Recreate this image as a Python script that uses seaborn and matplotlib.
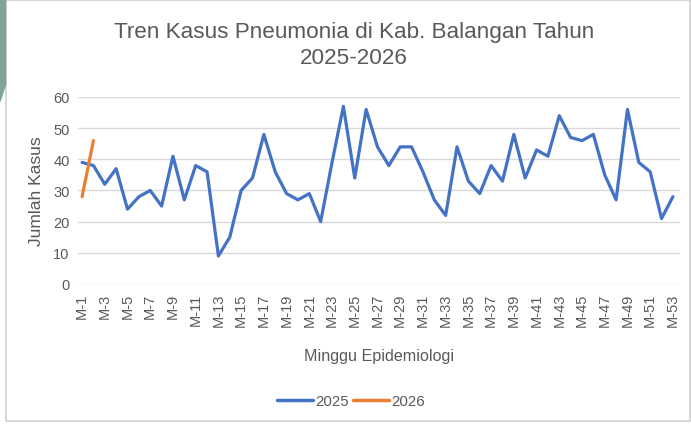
import matplotlib
matplotlib.use("Agg")
import matplotlib.pyplot as plt
import matplotlib.patches as patches
import numpy as np
import pandas as pd
import seaborn as sns

# weekly pneumonia cases
weeks = ["M-%d" % i for i in range(1, 54)]
cases_2025 = [39, 38, 32, 37, 24, 28, 30, 25, 41, 27,
              38, 36, 9, 15, 30, 34, 48, 36, 29, 27,
              29, 20, 39, 57, 34, 56, 44, 38, 44, 44,
              36, 27, 22, 44, 33, 29, 38, 33, 48, 34,
              43, 41, 54, 47, 46, 48, 35, 27, 56, 39,
              36, 21, 28]
cases_2026 = [28, 46]
years = ["2025", "2026"]
colors = ["#4472C4", "#ED7D31"]

df = pd.concat([
    pd.DataFrame({"idx": range(len(cases_2025)), "week": weeks[:len(cases_2025)],
                  "cases": cases_2025, "year": years[0]}),
    pd.DataFrame({"idx": range(len(cases_2026)), "week": weeks[:len(cases_2026)],
                  "cases": cases_2026, "year": years[1]}),
])

sns.set_theme(style="white")
plt.rcParams["font.family"] = ["Liberation Sans", "DejaVu Sans"]
grey = "#595959"

fig = plt.figure(figsize=(6.91, 4.27), dpi=100)
ax = fig.add_axes([0.113, 0.3326, 0.871, 0.4379])

sns.lineplot(data=df, x="idx", y="cases", hue="year", palette=colors,
             linewidth=2.3, ax=ax, legend=False)

ax.set_ylim(0, 60)
ax.set_xlim(-0.35, 52.62)
ax.set_yticks(range(0, 61, 10))
ax.yaxis.grid(True, color="#D9D9D9", linewidth=1)
ax.set_axisbelow(True)
ax.set_xticks(range(0, 53, 2))
ax.set_xticklabels(weeks[::2], rotation=90)
ax.tick_params(axis="both", colors=grey, labelsize=10.5, length=0, pad=6)
for s in ax.spines.values():
    s.set_visible(False)

ax.set_xlabel("Minggu Epidemiologi", color=grey, fontsize=11.6, labelpad=16)
ax.set_ylabel("Jumlah Kasus", color=grey, fontsize=12.5, labelpad=7)
fig.text(0.512, 0.893, "Tren Kasus Pneumonia di Kab. Balangan Tahun\n2025-2026",
         ha="center", va="center", fontsize=16.2, color=grey, linespacing=1.3)

handles = [plt.Line2D([], [], color=c, linewidth=2.5) for c in colors]
fig.legend(handles, years, loc="center", bbox_to_anchor=(0.508, 0.058), ncol=2,
           frameon=False, fontsize=10.8, labelcolor=grey, handlelength=2.4,
           handletextpad=0.15, columnspacing=0.3)

# chart frame and the teal strip at the left edge of the screenshot
fig.patches.append(patches.Rectangle((0.009, 0.012), 0.99, 0.985, transform=fig.transFigure,
                                     fill=False, edgecolor="#D0D0D0", linewidth=1.2))
fig.patches.append(patches.Polygon([(0, 1), (0.008, 1), (0.008, 0.8), (0, 0.76)],
                                   transform=fig.transFigure, color="#7FA59B"))

fig.savefig("out.png", dpi=100)
